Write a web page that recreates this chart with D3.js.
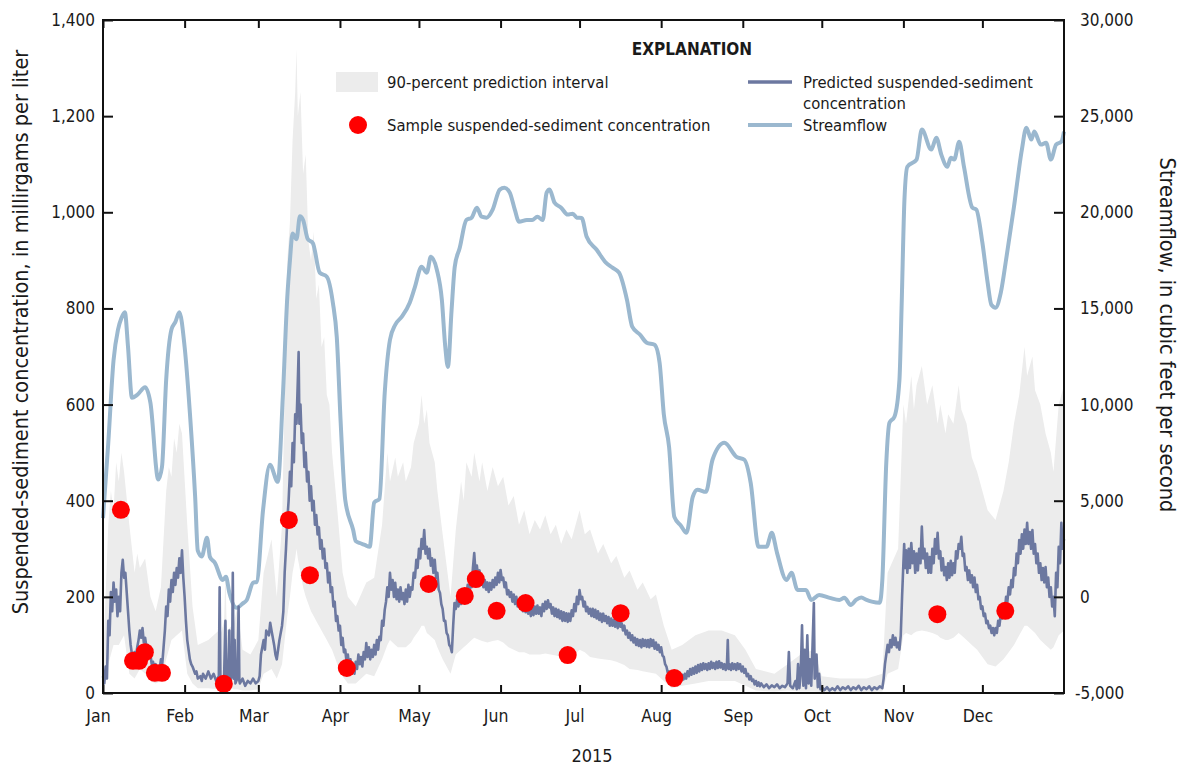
<!DOCTYPE html>
<html>
<head>
<meta charset="utf-8">
<script src="https://cdn.jsdelivr.net/npm/d3@7"></script>
<style>
  body { margin: 0; background: #fff; }
  svg text { font-family: "Liberation Sans Narrow", "DejaVu Sans Condensed", "Arial Narrow", sans-serif; fill: #1a1a1a; }
</style>
</head>
<body>
<div id="chart"></div>
<script>
// ---- data ----
const months = ["Jan", "Feb", "Mar", "Apr", "May", "Jun", "Jul", "Aug", "Sep", "Oct", "Nov", "Dec"];
const sscTicks = [0, 200, 400, 600, 800, 1000, 1200, 1400];
const flowTicks = [-5000, 0, 5000, 10000, 15000, 20000, 25000, 30000];

// [day of year (0 = Jan 1), cubic feet per second]
const streamflow = [
  [0, 4100], [2, 8000], [4, 12300], [5.7, 13900], [7, 14500], [8.3, 14800], [9.5, 13000], [11, 10350],
  [13, 10500], [16, 10900], [18, 10100], [21, 6100], [22.4, 6750], [24, 11300], [26, 13900], [27.5, 14300],
  [29, 14800], [31, 13000], [33, 9570], [35, 5200], [36, 2400], [37.5, 2100], [39.5, 3070], [40.6, 2080],
  [42.5, 1770], [45.5, 880], [46.7, 1040], [48, 210], [50.7, -570], [53, -350], [54.6, -160], [57, 730],
  [58.4, 780], [60.8, 4530], [63.4, 6870], [66.4, 5980], [68.3, 10400], [70, 15600], [71, 17500], [72, 18900],
  [73.5, 18600], [74.8, 19800], [76, 19600], [77.8, 18600], [79.7, 18400], [82.3, 16860], [85, 16650], [87.3, 15300],
  [88.8, 13500], [90.3, 9000], [92, 5050], [95, 3490], [96, 2900], [97.5, 2800], [99.4, 2700], [101.3, 2600],
  [103, 4900], [105, 5100], [107, 10600], [109, 13370], [111, 14150], [113.5, 14570], [116.5, 15300], [118.4, 16080],
  [121, 17170], [123, 16860], [124.5, 17690], [126.8, 17010], [128.7, 15450], [130, 13000], [131, 11960], [132.4, 14930],
  [133.6, 17170], [135.5, 18160], [138, 19600], [140, 19720], [142, 20240], [143.8, 19770], [145.7, 19720], [148, 20140],
  [150.7, 21180], [152.5, 21280], [154.5, 21020], [156.4, 20140], [158, 19510], [161, 19600], [163, 19600], [165, 19770],
  [167, 19600], [168.5, 21020], [169.6, 21180], [171.5, 20500], [174, 20240], [176.5, 19880], [178.4, 19930], [180, 19720],
  [181.8, 19700], [183.7, 18730], [187.5, 18050], [191, 17380], [193.5, 17120], [196, 16860], [199, 15450], [201, 14050],
  [204, 13630], [206.5, 13220], [209.5, 13110], [211.4, 12180], [213, 9500], [215, 7800], [217, 4160], [219.5, 3700],
  [221.6, 3330], [224, 5200], [225.8, 5570], [229, 5460], [231.5, 7130], [236, 8010], [240.6, 7280], [243.6, 7130],
  [246, 5930], [249, 2600], [252, 2600], [254, 3330], [256, 2290], [259.6, 880], [261.5, 1250], [263.8, 360],
  [267, 360], [269, -160], [272, 100], [276, -50], [279.7, -160], [281.6, -50], [284, -420], [286, -160],
  [288, -30], [290, -160], [292, -250], [295, -310], [296, 880], [297.5, 6970], [298.7, 9050], [300.6, 9370],
  [302.5, 11290], [303.3, 15000], [304.4, 20660], [305.5, 22370], [309, 22740], [311, 24300], [314.6, 23260], [316.5, 23880],
  [318.4, 23000], [320.7, 22370], [322, 22840], [323.3, 22740], [325.2, 23670], [327, 22370], [330.2, 20240], [331.7, 20140],
  [334, 18420], [336, 16340], [337.4, 15190], [339, 15040], [341, 15820], [343, 17530], [346, 20290], [349, 23260],
  [350.7, 24400], [352.6, 23780], [353.7, 24200], [356.2, 23520], [358.2, 23620], [360, 22740], [362, 23520], [364, 23670],
  [365, 24200]
];

// [day of year, predicted suspended-sediment concentration in mg/L]
const predicted = [
  [0, 35], [0.5, 20], [1, 55], [1.5, 30], [2, 150], [2.5, 120], [3, 210], [3.5, 170], [4, 230], [4.5, 190], [5, 215], [5.5, 160],
  [6, 200], [6.5, 170], [7, 250], [7.5, 277], [8, 240], [8.5, 250], [9, 210], [9.5, 170], [10, 130], [10.5, 100], [11, 80], [11.5, 70],
  [12, 85], [12.5, 75], [13, 95], [13.5, 110], [14, 130], [14.5, 115], [15, 135], [15.5, 105], [16, 115], [16.5, 95], [17, 100], [17.5, 75],
  [18, 80], [18.5, 60], [19, 65], [19.5, 50], [20, 60], [20.5, 45], [21, 55], [21.5, 50], [22, 70], [22.5, 60], [23, 95], [23.5, 130],
  [24, 180], [24.5, 160], [25, 215], [25.5, 190], [26, 235], [26.5, 210], [27, 250], [27.5, 225], [28, 260], [28.5, 240], [29, 280], [29.5, 250],
  [30, 297], [30.5, 240], [31, 200], [31.5, 150], [32, 110], [32.5, 90], [33, 70], [33.5, 60], [34, 55], [35, 40], [35.5, 45], [36, 30],
  [37, 35], [37.5, 25], [38, 40], [39, 30], [40, 45], [41, 30], [42, 40], [43, 25], [44, 35], [44.3, 220], [44.6, 30], [45, 20],
  [46, 35], [46.5, 150], [46.8, 25], [47.5, 30], [48, 130], [48.3, 25], [49, 40], [49.3, 250], [49.6, 30], [50, 110], [50.3, 20], [51, 30],
  [51.5, 180], [51.8, 25], [52, 20], [53, 30], [54, 15], [55, 25], [56, 20], [57, 30], [58, 20], [59, 25], [59.5, 35], [60, 80],
  [61, 110], [61.5, 90], [62, 130], [63, 120], [63.5, 146], [64, 130], [65, 100], [65.5, 80], [66, 70], [66.5, 90], [67, 110], [68, 140],
  [68.5, 170], [69, 250], [69.5, 300], [70, 360], [70.5, 400], [71, 460], [71.5, 430], [72, 520], [72.5, 480], [73, 580], [73.5, 560], [74, 650],
  [74.3, 709], [74.6, 560], [75, 600], [75.5, 520], [76, 540], [76.5, 470], [77, 500], [77.5, 440], [78, 460], [78.5, 400], [79, 430], [79.5, 380],
  [80, 400], [80.5, 350], [81, 370], [81.5, 330], [82, 345], [82.5, 300], [83, 318], [83.5, 280], [84, 300], [84.5, 260], [85, 270], [85.5, 230],
  [86, 250], [86.5, 210], [87, 220], [87.5, 180], [88, 190], [88.5, 150], [89, 160], [89.5, 130], [90, 140], [90.5, 100], [91, 115], [91.5, 85],
  [92, 90], [92.5, 65], [93, 80], [93.5, 55], [94, 70], [94.5, 45], [95, 60], [95.5, 40], [96, 65], [96.5, 50], [97, 80], [97.5, 60],
  [98, 75], [98.5, 55], [99, 85], [99.5, 70], [100, 104], [100.5, 75], [101, 95], [101.5, 70], [102, 90], [102.5, 75], [103, 100], [103.5, 80],
  [104, 110], [104.5, 90], [105, 117], [105.5, 110], [106, 150], [106.5, 140], [107, 173], [107.5, 190], [108, 220], [108.5, 200], [109, 250], [109.5, 215],
  [110, 235], [110.5, 200], [111, 229], [111.5, 195], [112, 215], [112.5, 190], [113, 220], [113.5, 195], [114, 208], [114.5, 185], [115, 215], [115.5, 190],
  [116, 225], [116.5, 200], [117, 220], [117.5, 215], [118, 250], [118.5, 240], [119, 277], [119.5, 260], [120, 300], [120.5, 280], [121, 320], [121.5, 300],
  [122, 339], [122.5, 290], [123, 304], [123.5, 280], [124, 300], [124.5, 265], [125, 280], [125.5, 250], [126, 277], [126.5, 240], [127, 250], [127.5, 215],
  [128, 208], [128.5, 185], [129, 175], [129.5, 150], [130, 150], [130.5, 125], [131, 120], [131.5, 100], [132, 96], [132.5, 85], [133, 140], [133.5, 187],
  [134, 175], [134.5, 195], [135, 180], [135.5, 205], [136, 185], [136.5, 208], [137, 190], [137.5, 215], [138, 200], [138.5, 225], [139, 205], [139.5, 230],
  [140, 220], [140.5, 260], [141, 291], [141.5, 250], [142, 265], [142.5, 240], [143, 255], [143.5, 230], [144, 241], [144.5, 220], [145, 235], [145.5, 215],
  [146, 230], [146.5, 210], [147, 229], [147.5, 215], [148, 235], [148.5, 220], [149, 240], [149.5, 225], [150, 250], [150.5, 230], [151, 256], [151.5, 235],
  [152, 240], [152.5, 220], [153, 230], [153.5, 205], [154, 214], [154.5, 200], [155, 210], [155.5, 190], [156, 205], [156.5, 185], [157, 200], [157.5, 180],
  [158, 193], [158.5, 175], [159, 190], [159.5, 170], [160, 185], [160.5, 168], [161, 180], [161.5, 165], [162, 179], [162.5, 160], [163, 178], [163.5, 162],
  [164, 180], [164.5, 165], [165, 182], [165.5, 165], [166, 178], [166.5, 160], [167, 185], [167.5, 170], [168, 190], [168.5, 175], [169, 193], [169.5, 178],
  [170, 185], [170.5, 165], [171, 178], [171.5, 160], [172, 175], [172.5, 158], [173, 173], [173.5, 155], [174, 170], [174.5, 150], [175, 168], [175.5, 150],
  [176, 166], [176.5, 148], [177, 165], [177.5, 150], [178, 172], [178.5, 160], [179, 185], [179.5, 170], [180, 200], [180.5, 185], [181, 214], [181.5, 195],
  [182, 200], [182.5, 180], [183, 190], [183.5, 170], [184, 179], [184.5, 165], [185, 175], [185.5, 160], [186, 175], [186.5, 158], [187, 173], [187.5, 155],
  [188, 170], [188.5, 152], [189, 165], [189.5, 148], [190, 165], [190.5, 150], [191, 160], [191.5, 145], [192, 158], [192.5, 140], [193, 155], [193.5, 140],
  [194, 152], [194.5, 138], [195, 150], [195.5, 135], [196, 152], [196.5, 138], [197, 145], [197.5, 130], [198, 140], [198.5, 122], [199, 130], [199.5, 115],
  [200, 125], [200.5, 110], [201, 120], [201.5, 105], [202, 115], [202.5, 100], [203, 112], [203.5, 98], [204, 110], [204.5, 95], [205, 112], [205.5, 98],
  [206, 110], [206.5, 96], [207, 110], [207.5, 95], [208, 112], [208.5, 98], [209, 110], [209.5, 92], [210, 105], [210.5, 90], [211, 100], [211.5, 85],
  [212, 95], [212.5, 78], [213, 75], [213.5, 60], [214, 55], [214.5, 42], [215, 45], [215.5, 35], [216, 40], [216.5, 28], [217, 35], [217.5, 25],
  [218, 30], [218.5, 22], [219, 35], [219.5, 25], [220, 38], [220.5, 28], [221, 40], [221.5, 30], [222, 45], [222.5, 35], [223, 50], [223.5, 38],
  [224, 52], [224.5, 40], [225, 55], [225.5, 42], [226, 58], [226.5, 45], [227, 60], [227.5, 48], [228, 62], [228.5, 50], [229, 60], [229.5, 48],
  [230, 62], [230.5, 50], [231, 65], [231.5, 52], [232, 62], [232.5, 50], [233, 65], [233.5, 52], [234, 66], [234.5, 53], [235, 62], [235.5, 50],
  [236, 60], [236.5, 48], [237, 62], [237.3, 110], [237.6, 50], [238, 60], [238.5, 48], [239, 62], [239.5, 50], [240, 60], [240.5, 48], [241, 62],
  [241.5, 50], [242, 60], [242.5, 45], [243, 55], [243.5, 42], [244, 50], [244.5, 35], [245, 40], [245.5, 28], [246, 35], [246.5, 25], [247, 28],
  [247.5, 18], [248, 25], [248.5, 15], [249, 22], [249.5, 14], [250, 20], [251, 12], [252, 18], [253, 10], [254, 16], [255, 12], [256, 18],
  [257, 10], [258, 15], [259, 12], [260, 20], [260.5, 85], [261, 15], [262, 10], [263, 25], [263.5, 8], [264, 60], [264.5, 10], [265, 40],
  [265.5, 141], [266, 15], [266.5, 90], [267, 10], [267.5, 120], [268, 20], [268.5, 70], [269, 15], [269.5, 100], [270, 187], [270.3, 30], [271, 80],
  [271.5, 12], [272, 40], [272.5, 8], [273, 12], [274, 6], [275, 12], [276, 5], [277, 10], [278, 6], [279, 14], [280, 6], [281, 12],
  [282, 8], [283, 14], [284, 6], [285, 12], [286, 8], [287, 15], [288, 6], [289, 12], [290, 8], [291, 14], [292, 6], [293, 12],
  [294, 8], [295, 14], [296, 10], [296.5, 30], [297, 60], [297.5, 80], [298, 100], [298.5, 85], [299, 110], [299.5, 95], [300, 120], [300.5, 100],
  [301, 115], [301.5, 95], [302, 105], [302.5, 90], [303, 120], [303.5, 200], [304, 270], [304.3, 310], [304.6, 260], [305, 297], [305.5, 250], [306, 300],
  [306.5, 260], [307, 312], [307.5, 270], [308, 295], [308.5, 250], [309, 290], [309.5, 255], [310, 300], [310.5, 270], [311, 346], [311.5, 280], [312, 300],
  [312.5, 260], [313, 290], [313.5, 250], [314, 283], [314.5, 250], [315, 300], [315.5, 270], [316, 320], [316.5, 290], [317, 333], [317.5, 280], [318, 295],
  [318.5, 255], [319, 280], [319.5, 245], [320, 262], [320.5, 235], [321, 270], [321.5, 240], [322, 275], [322.5, 245], [323, 270], [323.5, 250], [324, 295],
  [324.5, 280], [325, 310], [325.5, 300], [326, 325], [326.5, 285], [327, 290], [327.5, 255], [328, 262], [328.5, 235], [329, 255], [329.5, 230], [330, 245],
  [330.5, 220], [331, 240], [331.5, 210], [332, 225], [332.5, 195], [333, 200], [333.5, 175], [334, 180], [334.5, 160], [335, 165], [335.5, 145], [336, 150],
  [336.5, 135], [337, 140], [337.5, 125], [338, 135], [338.5, 120], [339, 135], [339.5, 125], [340, 150], [340.5, 140], [341, 165], [341.5, 155], [342, 180],
  [342.5, 170], [343, 200], [343.5, 190], [344, 220], [344.5, 205], [345, 235], [345.5, 220], [346, 260], [346.5, 245], [347, 290], [347.5, 270], [348, 318],
  [348.5, 290], [349, 330], [349.5, 300], [350, 340], [350.5, 310], [351, 354], [351.5, 310], [352, 335], [352.5, 300], [353, 339], [353.5, 290], [354, 310],
  [354.5, 270], [355, 290], [355.5, 250], [356, 270], [356.5, 235], [357, 260], [357.5, 230], [358, 262], [358.5, 220], [359, 240], [359.5, 200], [360, 220],
  [360.5, 180], [361, 200], [361.5, 160], [362, 250], [362.5, 220], [363, 304], [363.5, 270], [364, 354], [364.5, 300], [365, 320]
];

// [day of year, lower, upper] of the 90-percent prediction interval, mg/L
const interval = [
  [0, 10, 60], [2, 60, 350], [3, 80, 420], [4, 100, 380], [5, 100, 480], [6, 100, 440], [7, 110, 500], [8, 120, 460],
  [10, 40, 350], [12, 30, 250], [13, 40, 290], [14, 50, 260], [16, 40, 280], [18, 25, 200], [20, 20, 170], [22, 25, 220],
  [24, 70, 420], [25, 90, 470], [26, 110, 450], [27, 115, 530], [28, 120, 500], [29, 125, 560], [30, 130, 540], [32, 40, 350],
  [34, 20, 180], [36, 10, 100], [40, 10, 110], [44, 8, 130], [44.3, 8, 240], [44.6, 8, 120], [46, 8, 150], [46.5, 8, 250],
  [47, 8, 130], [49, 8, 140], [49.3, 10, 250], [49.6, 8, 140], [51, 8, 180], [53, 5, 90], [56, 5, 80], [59, 8, 110],
  [61, 40, 250], [64, 50, 320], [66, 30, 200], [68, 60, 350], [70, 160, 900], [71, 200, 980], [72, 250, 1150], [73, 280, 1250],
  [73.5, 300, 1340], [74, 280, 1200], [75, 250, 1250], [76, 220, 1080], [77, 200, 1120], [78, 185, 940], [79, 170, 900], [80, 160, 960],
  [81, 150, 820], [82, 140, 850], [83, 130, 720], [84, 120, 740], [85, 110, 620], [86, 100, 600], [87, 90, 500], [89, 60, 380],
  [91, 35, 250], [93, 20, 200], [96, 20, 180], [100, 40, 230], [103, 35, 240], [106, 70, 350], [108, 100, 500], [109, 110, 440],
  [111, 100, 490], [112, 95, 450], [114, 95, 480], [115, 95, 440], [117, 105, 470], [118, 115, 520], [120, 130, 560], [121, 140, 620],
  [122, 140, 560], [123, 125, 590], [124, 120, 520], [126, 110, 480], [127, 95, 420], [129, 70, 330], [132, 40, 200], [134, 80, 340],
  [136, 90, 440], [137, 95, 400], [138, 100, 480], [140, 110, 450], [141, 115, 500], [143, 110, 440], [144, 108, 480], [146, 105, 420],
  [148, 108, 470], [150, 110, 430], [152, 105, 450], [154, 95, 390], [156, 90, 410], [158, 85, 350], [160, 85, 380], [162, 80, 330],
  [164, 80, 360], [166, 80, 340], [168, 82, 370], [170, 80, 330], [172, 78, 350], [174, 75, 310], [176, 75, 340], [178, 75, 320],
  [181, 90, 380], [183, 85, 330], [185, 75, 340], [188, 72, 290], [190, 70, 310], [193, 68, 270], [195, 65, 285], [198, 58, 240],
  [200, 50, 255], [203, 48, 215], [205, 45, 230], [208, 42, 195], [210, 40, 205], [213, 25, 140], [216, 10, 90], [220, 15, 100],
  [225, 20, 120], [230, 25, 130], [235, 25, 130], [240, 25, 120], [244, 15, 90], [248, 5, 50], [255, 3, 40], [260, 5, 60],
  [265, 3, 80], [270, 3, 90], [273, 2, 35], [280, 2, 30], [290, 2, 30], [296, 3, 40], [298, 40, 250], [302, 50, 300],
  [304, 120, 600], [305, 125, 560], [307, 120, 660], [308, 125, 590], [309, 128, 640], [311, 130, 680], [313, 128, 600], [315, 125, 640],
  [317, 120, 560], [318, 115, 600], [320, 110, 540], [321, 110, 580], [323, 115, 560], [325, 125, 640], [326, 120, 590], [328, 110, 560],
  [330, 100, 490], [332, 90, 460], [334, 75, 420], [336, 60, 380], [339, 55, 360], [342, 70, 420], [344, 85, 480], [346, 100, 560],
  [348, 120, 620], [350, 140, 720], [351, 140, 660], [353, 130, 700], [354, 125, 630], [356, 110, 600], [358, 100, 540], [360, 90, 500],
  [361, 95, 460], [363, 120, 600], [365, 130, 640]
];

// [day of year, sampled suspended-sediment concentration in mg/L]
const samples = [
  [6.8, 381], [11.4, 67], [13.7, 67], [15.9, 85], [19.7, 42], [22.4, 42], [45.9, 19], [70.6, 360],
  [78.6, 245], [92.6, 52], [123.7, 227], [137.4, 202], [141.6, 237], [149.5, 171], [160.5, 187], [176.5, 79],
  [196.6, 166], [217, 31], [316.9, 164], [342.7, 171]
];

const legendItems = [
  { type: "band", label: ["90-percent prediction interval"] },
  { type: "dot", label: ["Sample suspended-sediment concentration"] },
  { type: "pred", label: ["Predicted suspended-sediment", "concentration"] },
  { type: "flow", label: ["Streamflow"] }
];

const COLORS = {
  band: "#ececec",
  pred: "#6c78a0",
  flow: "#9bb8cf",
  dot: "#ff0000"
};

class SedimentChart {
  constructor() {
    this.width = 1188;
    this.height = 769;
    this.margin = { top: 20, right: 124, bottom: 76, left: 103 };
    this.init();
  }

  init() {
    const m = this.margin;
    const year = new Date(2015, 0, 1);
    this.x = d3.scaleLinear().domain([0, 365]).range([m.left, this.width - m.right]);
    this.ySsc = d3.scaleLinear().domain([0, 1400]).range([this.height - m.bottom, m.top]);
    this.yFlow = d3.scaleLinear().domain([-5000, 30000]).range([this.height - m.bottom, m.top]);
    this.monthStarts = months.map((d, i) => d3.timeDay.count(year, new Date(2015, i, 1)));

    this.svg = d3.select("#chart").append("svg")
      .attr("width", this.width)
      .attr("height", this.height);
    this.gMarks = this.svg.append("g");
    this.gAxes = this.svg.append("g");
    this.gLegend = this.svg.append("g");
    this.render();
  }

  render() {
    this.renderBand();
    this.renderLines();
    this.renderSamples();
    this.renderAxes();
    this.renderLegend();
  }

  renderBand() {
    const area = d3.area()
      .x((d) => this.x(d[0]))
      .y0((d) => this.ySsc(d[1]))
      .y1((d) => this.ySsc(d[2]));
    this.gMarks.append("path")
      .datum(interval)
      .attr("fill", COLORS.band)
      .attr("d", area);
  }

  renderLines() {
    const flowLine = d3.line()
      .x((d) => this.x(d[0]))
      .y((d) => this.yFlow(d[1]))
      .curve(d3.curveMonotoneX);
    this.gMarks.append("path")
      .datum(streamflow)
      .attr("fill", "none")
      .attr("stroke", COLORS.flow)
      .attr("stroke-width", 4)
      .attr("stroke-linejoin", "round")
      .attr("d", flowLine);

    const predLine = d3.line()
      .x((d) => this.x(d[0]))
      .y((d) => this.ySsc(d[1]));
    this.gMarks.append("path")
      .datum(predicted)
      .attr("fill", "none")
      .attr("stroke", COLORS.pred)
      .attr("stroke-width", 2.6)
      .attr("stroke-linejoin", "round")
      .attr("d", predLine);
  }

  renderSamples() {
    this.gMarks.append("g")
      .selectAll("circle")
      .data(samples)
      .join("circle")
      .attr("cx", (d) => this.x(d[0]))
      .attr("cy", (d) => this.ySsc(d[1]))
      .attr("r", 9)
      .attr("fill", COLORS.dot);
  }

  renderAxes() {
    const m = this.margin;
    const fmt = (d) => d3.format(",")(d).replace("\u2212", "-");
    const bottom = this.height - m.bottom;
    const right = this.width - m.right;

    // frame
    this.gAxes.append("rect")
      .attr("x", m.left)
      .attr("y", m.top)
      .attr("width", right - m.left)
      .attr("height", bottom - m.top)
      .attr("fill", "none")
      .attr("stroke", "#111")
      .attr("stroke-width", 2);

    const styleAxis = (g) => {
      g.select(".domain").remove();
      g.selectAll(".tick line").attr("stroke", "#111").attr("stroke-width", 2);
      g.selectAll(".tick text").attr("font-size", 17).attr("fill", "#1a1a1a").attr("font-family", null);
    };

    this.gAxes.append("g")
      .attr("transform", `translate(${m.left},0)`)
      .call(d3.axisLeft(this.ySsc).tickValues(sscTicks).tickFormat(fmt).tickSize(-10).tickPadding(8))
      .call(styleAxis);

    this.gAxes.append("g")
      .attr("transform", `translate(${right},0)`)
      .call(d3.axisRight(this.yFlow).tickValues(flowTicks).tickFormat(fmt).tickSize(-10).tickPadding(16))
      .call(styleAxis)
      .call((g) => g.selectAll(".tick text").filter((d) => d < 0).attr("dx", -5));

    this.gAxes.append("g")
      .attr("transform", `translate(0,${bottom})`)
      .call(d3.axisBottom(this.x).tickValues(this.monthStarts).tickFormat((d, i) => months[i]).tickSize(-8).tickPadding(17))
      .call(styleAxis)
      .call((g) => g.selectAll(".tick text").attr("font-size", 17.5).attr("dx", -5));

    this.gAxes.append("g")
      .attr("transform", `translate(0,${m.top})`)
      .call(d3.axisTop(this.x).tickValues(this.monthStarts).tickFormat("").tickSize(-8))
      .call(styleAxis);

    this.gAxes.append("text")
      .attr("text-anchor", "middle")
      .attr("font-size", 18)
      .attr("x", 592)
      .attr("y", 756)
      .attr("dy", "0.35em")
      .text("2015");

    this.gAxes.append("text")
      .attr("text-anchor", "middle")
      .attr("font-size", 21.5)
      .attr("transform", `translate(20,${332})rotate(-90)`)
      .attr("dy", "0.35em")
      .text("Suspended-sediment concentration, in millirgams per liter");

    this.gAxes.append("text")
      .attr("text-anchor", "middle")
      .attr("font-size", 21.5)
      .attr("transform", `translate(1168,${335})rotate(90)`)
      .attr("dy", "0.35em")
      .text("Streamflow, in cubic feet per second");
  }

  renderLegend() {
    const g = this.gLegend.attr("font-size", 16.5);
    g.append("text")
      .attr("x", 692)
      .attr("y", 49)
      .attr("dy", "0.35em")
      .attr("text-anchor", "middle")
      .attr("font-weight", "bold")
      .attr("font-size", 17)
      .text("EXPLANATION");

    const pos = [
      { sx: 336, tx: 387, y: 82 },
      { sx: 336, tx: 387, y: 125 },
      { sx: 748, tx: 803, y: 82 },
      { sx: 748, tx: 803, y: 125 }
    ];

    legendItems.forEach((item, i) => {
      const p = pos[i];
      const row = g.append("g");
      if (item.type === "band") {
        row.append("rect").attr("x", p.sx).attr("y", p.y - 10).attr("width", 42).attr("height", 20).attr("fill", COLORS.band);
      } else if (item.type === "dot") {
        row.append("circle").attr("cx", p.sx + 22).attr("cy", p.y).attr("r", 9).attr("fill", COLORS.dot);
      } else {
        row.append("line")
          .attr("x1", p.sx).attr("x2", p.sx + 44).attr("y1", p.y).attr("y2", p.y)
          .attr("stroke", COLORS[item.type])
          .attr("stroke-width", item.type === "flow" ? 4 : 3.5);
      }
      row.selectAll("text")
        .data(item.label)
        .join("text")
        .attr("x", p.tx)
        .attr("y", (d, j) => p.y + j * 21)
        .attr("dy", "0.35em")
        .text((d) => d);
    });
  }
}

new SedimentChart();
</script>
</body>
</html>
